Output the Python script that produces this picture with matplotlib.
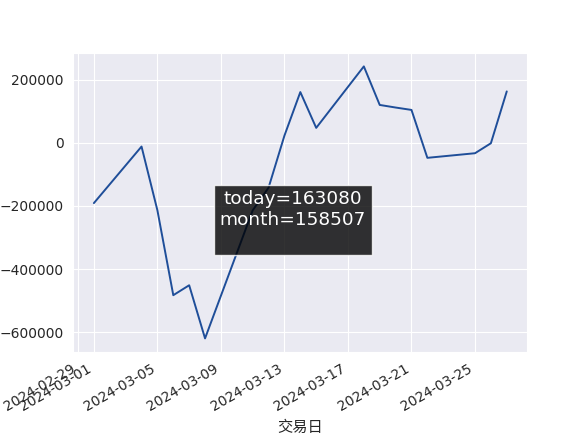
import matplotlib
matplotlib.use("Agg")
import matplotlib.pyplot as plt
import pandas as pd
import seaborn as sns

dates = ["2024-03-01", "2024-03-04", "2024-03-05", "2024-03-06", "2024-03-07",
         "2024-03-08", "2024-03-11", "2024-03-12", "2024-03-13", "2024-03-14",
         "2024-03-15", "2024-03-18", "2024-03-19", "2024-03-20", "2024-03-21",
         "2024-03-22", "2024-03-25", "2024-03-26", "2024-03-27"]
values = [-191000, -11700, -214000, -483000, -451500,
          -620000, -214000, -142000, 23000, 161000,
          47500, 242400, 120200, 112000, 104400,
          -47500, -32900, -1300, 163080]
today = 163080
month = 158507
xlabel = "交易日"


def main():
    sns.set_style("darkgrid")
    plt.rcParams['font.family'] = ['DejaVu Sans', 'Noto Sans CJK SC']
    plt.rcParams['xtick.labelsize'] = 10
    plt.rcParams['ytick.labelsize'] = 10

    x = pd.to_datetime(dates)
    fig, ax = plt.subplots(figsize=(5.86, 4.4), dpi=100)
    ax.plot(x, values, color="#1f4e99", linewidth=1.4)
    ax.set_xlabel(xlabel, fontsize=11, family=['Noto Sans CJK SC', 'DejaVu Sans'])
    fig.autofmt_xdate()

    fig.text(0.5, 0.5, "today=" + str(today) + "\nmonth=" + str(month) + "\n",
             ha="center", va="center", color="white", fontsize=13.3,
             bbox=dict(boxstyle="square", fc="black", ec="white", alpha=0.8))

    fig.savefig("out.png", dpi=100)


if __name__ == "__main__":
    main()
